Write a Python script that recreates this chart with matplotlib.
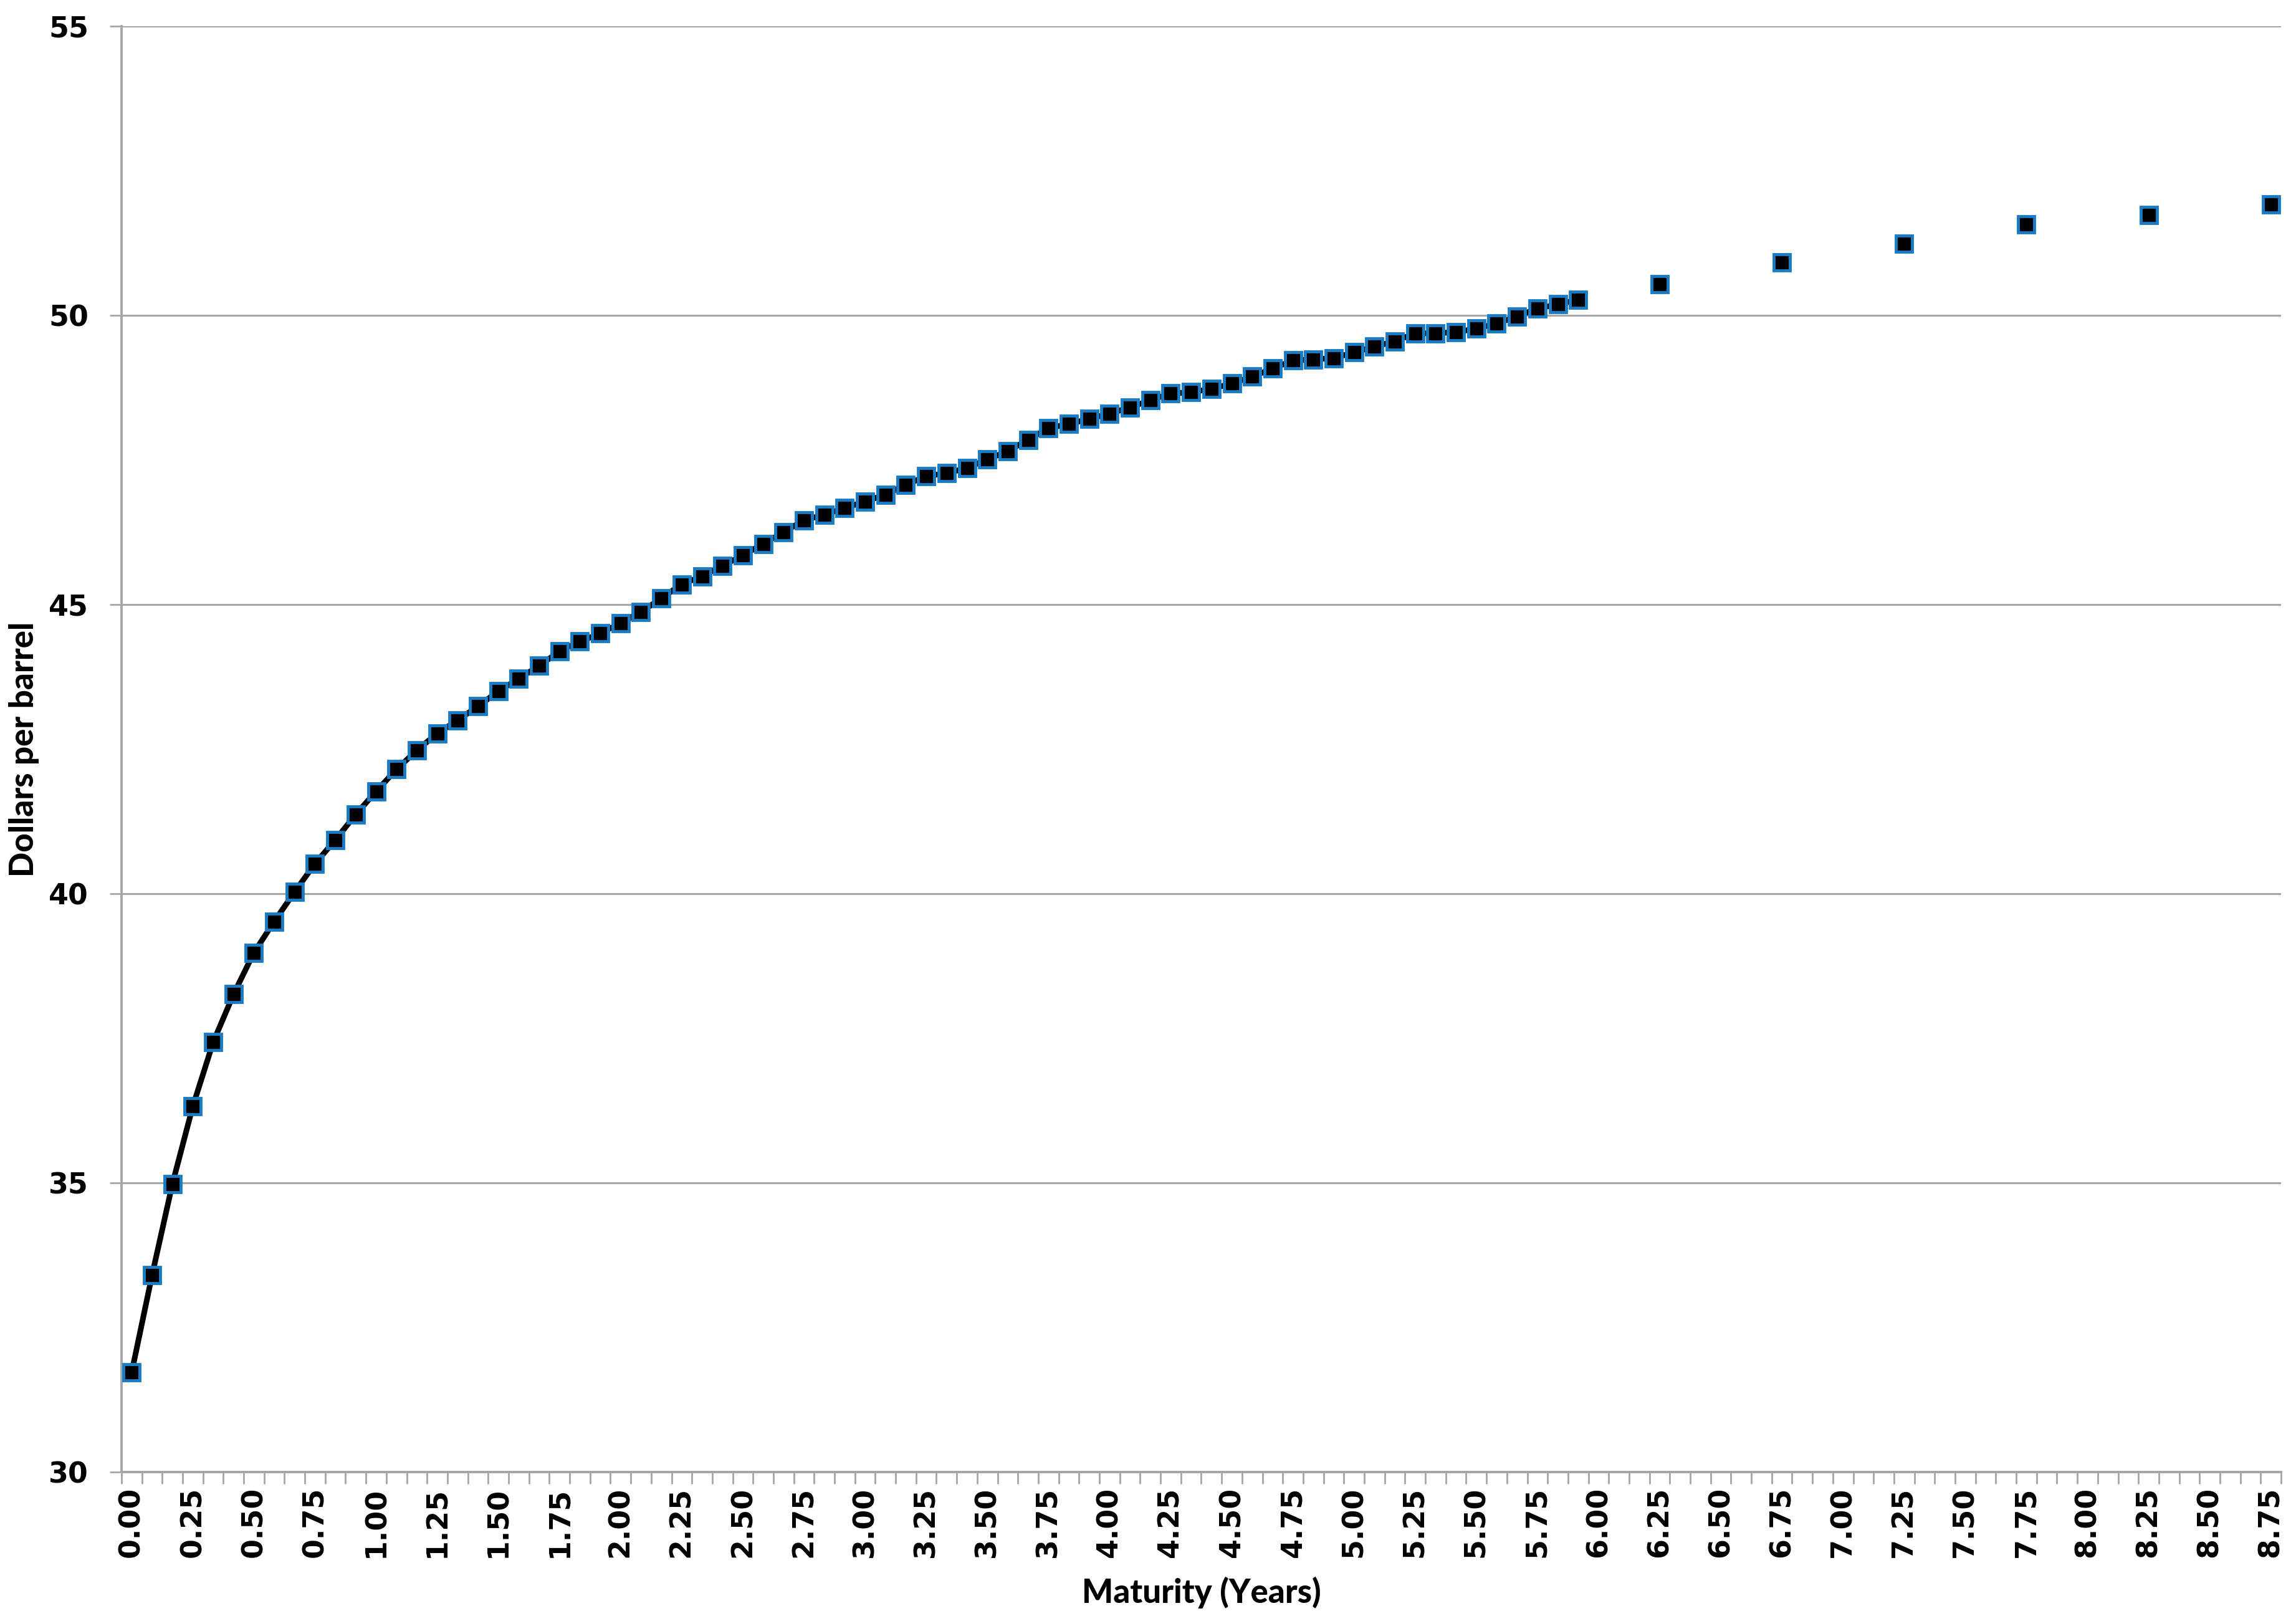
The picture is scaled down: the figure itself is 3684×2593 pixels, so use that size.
import matplotlib
matplotlib.use("Agg")
import matplotlib.pyplot as plt
import numpy as np
from matplotlib.ticker import MultipleLocator, FixedLocator, FormatStrFormatter

# monthly maturities (years) for the first 72 contracts
monthly_maturity = np.arange(72) / 12.0
monthly_price = [
    31.72, 33.40, 34.98, 36.32, 37.43, 38.26, 38.98, 39.52, 40.03, 40.52,
    40.93, 41.37, 41.77, 42.15, 42.48, 42.77, 43.00, 43.24, 43.50, 43.72,
    43.94, 44.19, 44.36, 44.50, 44.68, 44.87, 45.11, 45.35, 45.49, 45.67,
    45.85, 46.05, 46.25, 46.46, 46.55, 46.67, 46.78, 46.90, 47.07, 47.22,
    47.27, 47.36, 47.51, 47.65, 47.85, 48.05, 48.12, 48.21, 48.30, 48.41,
    48.53, 48.65, 48.67, 48.73, 48.82, 48.94, 49.08, 49.22, 49.24, 49.26,
    49.36, 49.46, 49.55, 49.69, 49.69, 49.71, 49.77, 49.86, 49.98, 50.12,
    50.19, 50.27,
]

# semi-annual contracts further out the curve
long_maturity = [6.25, 6.75, 7.25, 7.75, 8.25, 8.75]
long_price = [50.54, 50.92, 51.24, 51.57, 51.74, 51.92]

grey = "#A6A6A6"
edge_blue = "#1B7BC4"

fig = plt.figure(figsize=(36.84, 25.93), dpi=100)
ax = fig.add_axes([0.0529, 0.0891, 0.9406, 0.8947])

ax.plot(monthly_maturity, monthly_price, color="black", lw=6.5, zorder=3)
ax.plot(monthly_maturity, monthly_price, ls="none", marker="s", ms=19,
        mfc="black", mec=edge_blue, mew=3.5, zorder=4)
ax.plot(long_maturity, long_price, ls="none", marker="s", ms=19,
        mfc="black", mec=edge_blue, mew=3.5, zorder=4)

ax.set_ylim(30, 55)
ax.set_xlim(-1 / 24, 8.75 + 1 / 24)

ax.yaxis.set_major_locator(MultipleLocator(5))
ax.grid(axis="y", color=grey, lw=2.2)
ax.set_axisbelow(True)

# labels every quarter year, ticks at month boundaries
ax.xaxis.set_major_locator(FixedLocator(np.arange(0, 8.76, 0.25)))
ax.xaxis.set_major_formatter(FormatStrFormatter("%.2f"))
ax.xaxis.set_minor_locator(FixedLocator((np.arange(107) - 0.5) / 12))
ax.tick_params(axis="x", which="major", length=0, pad=17, rotation=90)
ax.tick_params(axis="x", which="minor", length=14, width=2, color=grey)
ax.tick_params(axis="y", length=14, width=2, color=grey, pad=24)

for lab in ax.get_xticklabels() + ax.get_yticklabels():
    lab.set_fontfamily("DejaVu Sans")
    lab.set_fontweight("bold")
    lab.set_fontsize(33)

for side in ["top", "right"]:
    ax.spines[side].set_visible(False)
for side in ["left", "bottom"]:
    ax.spines[side].set_color(grey)
    ax.spines[side].set_linewidth(2.8)

ax.set_xlabel("Maturity (Years)", fontsize=38, fontweight=900, family="Lato")
ax.set_ylabel("Dollars per barrel", fontsize=38, fontweight=900, family="Lato")
ax.xaxis.label.set_va("center")
ax.yaxis.label.set_va("center")
ax.xaxis.set_label_coords(0.5, -0.0836)
ax.yaxis.set_label_coords(-0.045, 0.5)

fig.savefig("out.png", dpi=100, facecolor="white")
